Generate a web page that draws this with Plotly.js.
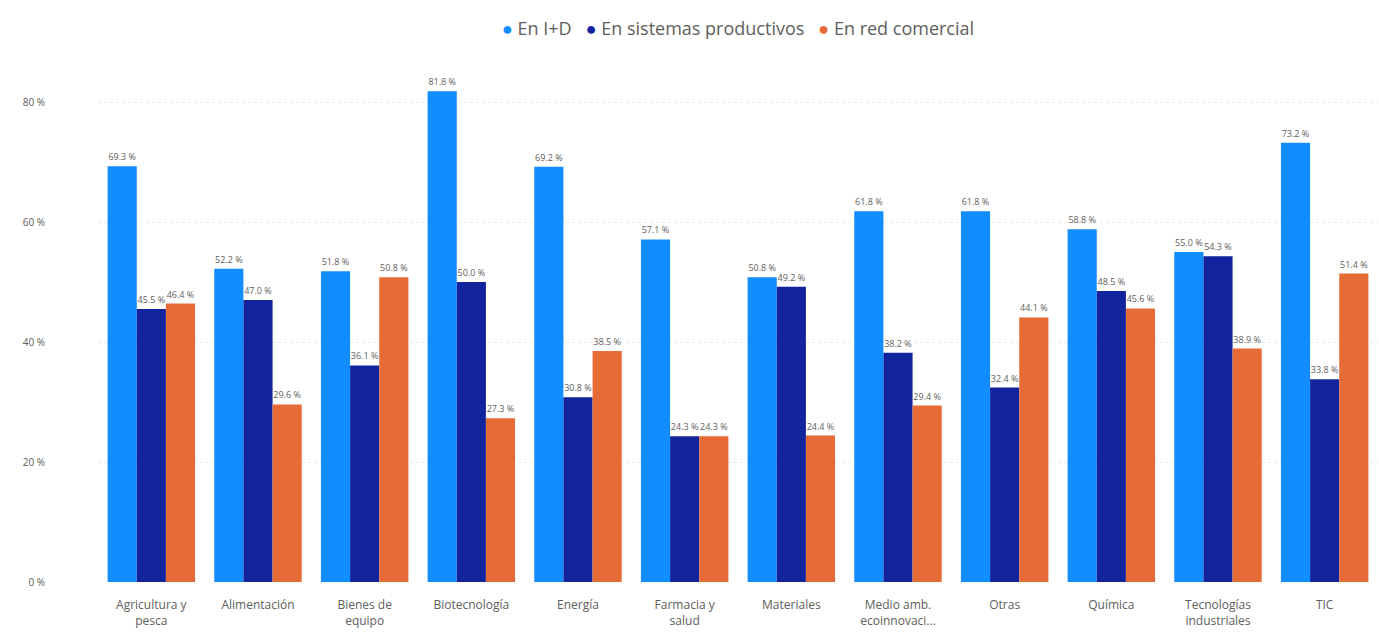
<!DOCTYPE html>
<html>
<head>
<meta charset="utf-8">
<script src="https://cdn.plot.ly/plotly-3.0.1.min.js"></script>
<style>html,body{margin:0;padding:0;background:#fff}#chart{width:1379px;height:643px}</style>
</head>
<body>
<div id="chart"></div>
<script>
const categories = ["Agricultura y<br>pesca","Alimentación","Bienes de<br>equipo","Biotecnología","Energía","Farmacia y<br>salud","Materiales","Medio amb.<br>ecoinnovaci...","Otras","Química","Tecnologías<br>industriales","TIC"];
const seriesNames = ["En I+D","En sistemas productivos","En red comercial"];
const idValues = [69.3,52.2,51.8,81.8,69.2,57.1,50.8,61.8,61.8,58.8,55.0,73.2];
const sistemasValues = [45.5,47.0,36.1,50.0,30.8,24.3,49.2,38.2,32.4,48.5,54.3,33.8];
const redValues = [46.4,29.6,50.8,27.3,38.5,24.3,24.4,29.4,44.1,45.6,38.9,51.4];
const yTicks = [0,20,40,60,80];
const yTickLabels = ["0 %","20 %","40 %","60 %","80 %"];
const colors = ["#118DFF","#12239E","#E66C37"];
const allValues = [idValues, sistemasValues, redValues];

const traces = allValues.map((vals,i)=>({
  type:"bar", x:categories, y:vals, name:seriesNames[i],
  marker:{color:colors[i]}, showlegend:false,
  texttemplate:"%{y:.1f} %", textposition:"outside", cliponaxis:false,
  textfont:{size:9, color:"#605E5C", family:"Open Sans, sans-serif"},
  hoverinfo:"x+y"
}));

const legendText = seriesNames.map((n,i)=>'<span style="color:'+colors[i]+'">●</span> '+n).join('&nbsp;&nbsp;&nbsp;');

const layout = {
  width:1379, height:643,
  margin:{l:98, r:1, t:78, b:61},
  paper_bgcolor:"#fff", plot_bgcolor:"#fff",
  barmode:"group", bargap:0.18, bargroupgap:0,
  font:{family:"Open Sans, sans-serif", color:"#605E5C"},
  showlegend:false,
  annotations:[{text:legendText, xref:"paper", yref:"paper", x:0.5, xanchor:"center",
    y:1.1, yanchor:"middle", showarrow:false, font:{size:18, color:"#605E5C", family:"Open Sans, sans-serif"}}],
  xaxis:{type:"category", tickfont:{size:12, color:"#605E5C"}, showgrid:false, zeroline:false, showline:false, ticks:"", ticklabelstandoff:14},
  yaxis:{range:[0,84], tickvals:yTicks, ticktext:yTickLabels, tickfont:{size:10, color:"#605E5C"},
    showgrid:true, gridcolor:"#eaeaea", griddash:"dot", gridwidth:1, zeroline:false, showline:false, ticklabelstandoff:52}
};
Plotly.newPlot("chart", traces, layout, {displayModeBar:false, staticPlot:true});
</script>
</body>
</html>
